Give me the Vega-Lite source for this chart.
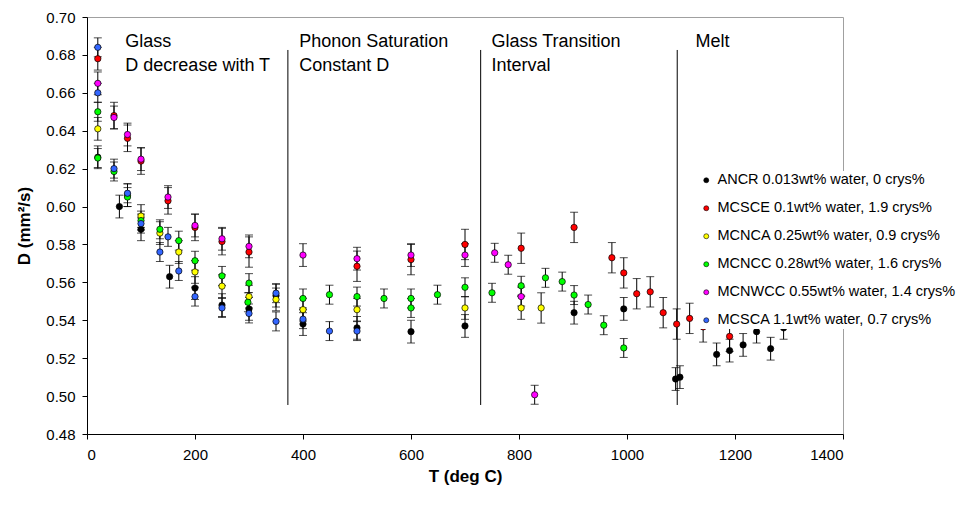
{
  "$schema": "https://vega.github.io/schema/vega-lite/v6.json",
  "width": 756,
  "height": 417,
  "autosize": {"type": "none"},
  "padding": {"left": 87, "top": 17, "right": 118, "bottom": 76},
  "background": "white",
  "config": {
    "font": "Liberation Sans",
    "view": {"stroke": "#a0a0a0", "strokeWidth": 1},
    "axis": {"grid": false, "domainColor": "black", "tickColor": "black", "labelColor": "black", "titleColor": "black", "labelFont": "Liberation Sans", "titleFont": "Liberation Sans", "labelFontSize": 15, "titleFontSize": 17, "titleFontWeight": "bold", "tickSize": 5, "labelOverlap": false}
  },
  "datasets": {
    "pts": [
      {"s": "ANCR", "T": 20, "D": 0.626, "e": 0.006},
      {"s": "ANCR", "T": 60, "D": 0.600, "e": 0.006},
      {"s": "ANCR", "T": 100, "D": 0.588, "e": 0.006},
      {"s": "ANCR", "T": 153, "D": 0.563, "e": 0.006},
      {"s": "ANCR", "T": 200, "D": 0.557, "e": 0.006},
      {"s": "ANCR", "T": 250, "D": 0.548, "e": 0.006},
      {"s": "ANCR", "T": 300, "D": 0.546, "e": 0.006},
      {"s": "ANCR", "T": 350, "D": 0.553, "e": 0.006},
      {"s": "ANCR", "T": 400, "D": 0.538, "e": 0.006},
      {"s": "ANCR", "T": 500, "D": 0.536, "e": 0.006},
      {"s": "ANCR", "T": 600, "D": 0.534, "e": 0.006},
      {"s": "ANCR", "T": 700, "D": 0.537, "e": 0.006},
      {"s": "ANCR", "T": 902, "D": 0.544, "e": 0.006},
      {"s": "ANCR", "T": 994, "D": 0.546, "e": 0.006},
      {"s": "ANCR", "T": 1090, "D": 0.509, "e": 0.006},
      {"s": "ANCR", "T": 1098, "D": 0.510, "e": 0.006},
      {"s": "ANCR", "T": 1166, "D": 0.522, "e": 0.006},
      {"s": "ANCR", "T": 1190, "D": 0.524, "e": 0.006},
      {"s": "ANCR", "T": 1215, "D": 0.527, "e": 0.006},
      {"s": "ANCR", "T": 1240, "D": 0.534, "e": 0.006},
      {"s": "ANCR", "T": 1266, "D": 0.525, "e": 0.006},
      {"s": "ANCR", "T": 1290, "D": 0.536, "e": 0.006},
      {"s": "MCSCE", "T": 20, "D": 0.678, "e": 0.006},
      {"s": "MCSCE", "T": 50, "D": 0.648, "e": 0.007},
      {"s": "MCSCE", "T": 75, "D": 0.636, "e": 0.007},
      {"s": "MCSCE", "T": 100, "D": 0.624, "e": 0.007},
      {"s": "MCSCE", "T": 150, "D": 0.603, "e": 0.007},
      {"s": "MCSCE", "T": 200, "D": 0.589, "e": 0.007},
      {"s": "MCSCE", "T": 250, "D": 0.5815, "e": 0.007},
      {"s": "MCSCE", "T": 300, "D": 0.576, "e": 0.008},
      {"s": "MCSCE", "T": 500, "D": 0.5685, "e": 0.008},
      {"s": "MCSCE", "T": 600, "D": 0.572, "e": 0.008},
      {"s": "MCSCE", "T": 700, "D": 0.580, "e": 0.008},
      {"s": "MCSCE", "T": 804, "D": 0.578, "e": 0.008},
      {"s": "MCSCE", "T": 902, "D": 0.589, "e": 0.008},
      {"s": "MCSCE", "T": 972, "D": 0.573, "e": 0.008},
      {"s": "MCSCE", "T": 994, "D": 0.565, "e": 0.008},
      {"s": "MCSCE", "T": 1018, "D": 0.554, "e": 0.008},
      {"s": "MCSCE", "T": 1043, "D": 0.555, "e": 0.008},
      {"s": "MCSCE", "T": 1067, "D": 0.544, "e": 0.008},
      {"s": "MCSCE", "T": 1092, "D": 0.538, "e": 0.008},
      {"s": "MCSCE", "T": 1116, "D": 0.541, "e": 0.008},
      {"s": "MCSCE", "T": 1141, "D": 0.5365, "e": 0.008},
      {"s": "MCSCE", "T": 1190, "D": 0.5315, "e": 0.008},
      {"s": "MCNCA", "T": 20, "D": 0.641, "e": 0.006},
      {"s": "MCNCA", "T": 75, "D": 0.606, "e": 0.006},
      {"s": "MCNCA", "T": 100, "D": 0.595, "e": 0.006},
      {"s": "MCNCA", "T": 135, "D": 0.586, "e": 0.006},
      {"s": "MCNCA", "T": 170, "D": 0.576, "e": 0.006},
      {"s": "MCNCA", "T": 200, "D": 0.5655, "e": 0.006},
      {"s": "MCNCA", "T": 250, "D": 0.558, "e": 0.006},
      {"s": "MCNCA", "T": 300, "D": 0.5525, "e": 0.006},
      {"s": "MCNCA", "T": 350, "D": 0.551, "e": 0.006},
      {"s": "MCNCA", "T": 400, "D": 0.5456, "e": 0.006},
      {"s": "MCNCA", "T": 500, "D": 0.5456, "e": 0.006},
      {"s": "MCNCA", "T": 700, "D": 0.5465, "e": 0.006},
      {"s": "MCNCA", "T": 804, "D": 0.5465, "e": 0.006},
      {"s": "MCNCA", "T": 841, "D": 0.5465, "e": 0.008},
      {"s": "MCNCC", "T": 20, "D": 0.650, "e": 0.005},
      {"s": "MCNCC", "T": 20, "D": 0.6256, "e": 0.005},
      {"s": "MCNCC", "T": 50, "D": 0.6185, "e": 0.005},
      {"s": "MCNCC", "T": 75, "D": 0.605, "e": 0.005},
      {"s": "MCNCC", "T": 100, "D": 0.5926, "e": 0.005},
      {"s": "MCNCC", "T": 135, "D": 0.588, "e": 0.005},
      {"s": "MCNCC", "T": 170, "D": 0.582, "e": 0.005},
      {"s": "MCNCC", "T": 200, "D": 0.5714, "e": 0.005},
      {"s": "MCNCC", "T": 250, "D": 0.5634, "e": 0.005},
      {"s": "MCNCC", "T": 300, "D": 0.5596, "e": 0.005},
      {"s": "MCNCC", "T": 298, "D": 0.5495, "e": 0.005},
      {"s": "MCNCC", "T": 400, "D": 0.5515, "e": 0.005},
      {"s": "MCNCC", "T": 449, "D": 0.5535, "e": 0.005},
      {"s": "MCNCC", "T": 500, "D": 0.5525, "e": 0.005},
      {"s": "MCNCC", "T": 550, "D": 0.5515, "e": 0.005},
      {"s": "MCNCC", "T": 600, "D": 0.5515, "e": 0.005},
      {"s": "MCNCC", "T": 600, "D": 0.5465, "e": 0.005},
      {"s": "MCNCC", "T": 649, "D": 0.5535, "e": 0.005},
      {"s": "MCNCC", "T": 700, "D": 0.5574, "e": 0.005},
      {"s": "MCNCC", "T": 750, "D": 0.5545, "e": 0.005},
      {"s": "MCNCC", "T": 804, "D": 0.5582, "e": 0.005},
      {"s": "MCNCC", "T": 849, "D": 0.5624, "e": 0.005},
      {"s": "MCNCC", "T": 880, "D": 0.5604, "e": 0.005},
      {"s": "MCNCC", "T": 902, "D": 0.5533, "e": 0.005},
      {"s": "MCNCC", "T": 928, "D": 0.5483, "e": 0.005},
      {"s": "MCNCC", "T": 957, "D": 0.5374, "e": 0.005},
      {"s": "MCNCC", "T": 994, "D": 0.5254, "e": 0.005},
      {"s": "MCNWCC", "T": 20, "D": 0.665, "e": 0.006},
      {"s": "MCNWCC", "T": 50, "D": 0.647, "e": 0.006},
      {"s": "MCNWCC", "T": 75, "D": 0.638, "e": 0.006},
      {"s": "MCNWCC", "T": 100, "D": 0.625, "e": 0.006},
      {"s": "MCNWCC", "T": 150, "D": 0.605, "e": 0.006},
      {"s": "MCNWCC", "T": 200, "D": 0.590, "e": 0.006},
      {"s": "MCNWCC", "T": 250, "D": 0.583, "e": 0.006},
      {"s": "MCNWCC", "T": 300, "D": 0.579, "e": 0.006},
      {"s": "MCNWCC", "T": 400, "D": 0.5744, "e": 0.006},
      {"s": "MCNWCC", "T": 500, "D": 0.5725, "e": 0.006},
      {"s": "MCNWCC", "T": 600, "D": 0.5744, "e": 0.006},
      {"s": "MCNWCC", "T": 700, "D": 0.5744, "e": 0.006},
      {"s": "MCNWCC", "T": 755, "D": 0.5756, "e": 0.005},
      {"s": "MCNWCC", "T": 780, "D": 0.5693, "e": 0.005},
      {"s": "MCNWCC", "T": 804, "D": 0.5525, "e": 0.005},
      {"s": "MCNWCC", "T": 829, "D": 0.5007, "e": 0.005},
      {"s": "MCSCA", "T": 20, "D": 0.684, "e": 0.005},
      {"s": "MCSCA", "T": 20, "D": 0.660, "e": 0.005},
      {"s": "MCSCA", "T": 50, "D": 0.620, "e": 0.005},
      {"s": "MCSCA", "T": 75, "D": 0.607, "e": 0.005},
      {"s": "MCSCA", "T": 100, "D": 0.591, "e": 0.005},
      {"s": "MCSCA", "T": 135, "D": 0.576, "e": 0.005},
      {"s": "MCSCA", "T": 150, "D": 0.584, "e": 0.005},
      {"s": "MCSCA", "T": 170, "D": 0.566, "e": 0.005},
      {"s": "MCSCA", "T": 200, "D": 0.5525, "e": 0.005},
      {"s": "MCSCA", "T": 250, "D": 0.5465, "e": 0.005},
      {"s": "MCSCA", "T": 300, "D": 0.5436, "e": 0.005},
      {"s": "MCSCA", "T": 350, "D": 0.5543, "e": 0.005},
      {"s": "MCSCA", "T": 350, "D": 0.5394, "e": 0.005},
      {"s": "MCSCA", "T": 400, "D": 0.5406, "e": 0.005},
      {"s": "MCSCA", "T": 449, "D": 0.5343, "e": 0.005},
      {"s": "MCSCA", "T": 500, "D": 0.5343, "e": 0.005}
    ],
    "lines": [
      {"T": 372, "D": 0.4953, "D2": 0.6826},
      {"T": 729, "D": 0.4953, "D2": 0.6826},
      {"T": 1093, "D": 0.4953, "D2": 0.6826}
    ],
    "labels": [
      {"T": 71, "D": 0.6868, "text": "Glass"},
      {"T": 71, "D": 0.6741, "text": "D decrease with T"},
      {"T": 393, "D": 0.6868, "text": "Phonon Saturation"},
      {"T": 393, "D": 0.6741, "text": "Constant D"},
      {"T": 749, "D": 0.6868, "text": "Glass Transition"},
      {"T": 749, "D": 0.6741, "text": "Interval"},
      {"T": 1127, "D": 0.6868, "text": "Melt"}
    ]
  },
  "encoding": {
    "x": {"field": "T", "type": "quantitative", "title": "T (deg C)", "scale": {"domain": [0, 1400], "nice": false},
      "axis": {"values": [0, 200, 400, 600, 800, 1000, 1200, 1400], "format": "d", "labelPadding": 8, "titlePadding": 6}},
    "y": {"field": "D", "type": "quantitative", "title": "D (mm²/s)", "scale": {"domain": [0.48, 0.70], "nice": false},
      "axis": {"values": [0.48, 0.50, 0.52, 0.54, 0.56, 0.58, 0.60, 0.62, 0.64, 0.66, 0.68, 0.70], "format": ".2f", "labelPadding": 7, "titlePadding": 12}}
  },
  "layer": [
    {
      "data": {"name": "lines"},
      "mark": {"type": "rule", "color": "black", "strokeWidth": 1},
      "encoding": {"y2": {"field": "D2"}}
    },
    {
      "data": {"name": "labels"},
      "mark": {"type": "text", "align": "left", "baseline": "middle", "fontSize": 18, "font": "Liberation Sans", "color": "black"},
      "encoding": {"text": {"field": "text"}}
    },
    {
      "data": {"name": "pts"},
      "mark": {"type": "errorbar", "color": "black", "ticks": {"size": 8, "color": "black", "strokeWidth": 1}, "rule": {"strokeWidth": 1, "color": "black"}},
      "encoding": {"yError": {"field": "e"}}
    },
    {
      "data": {"name": "pts"},
      "mark": {"type": "point", "filled": true, "size": 40, "stroke": "black", "strokeWidth": 0.7, "opacity": 1},
      "encoding": {
        "fill": {"field": "s", "type": "nominal",
          "scale": {"domain": ["ANCR", "MCSCE", "MCNCA", "MCNCC", "MCNWCC", "MCSCA"], "range": ["#000000", "#ff0000", "#ffff00", "#00ff00", "#ff00ff", "#3366ff"]},
          "legend": {"title": null, "orient": "none", "legendX": 610, "legendY": 154, "fillColor": "white", "padding": 2,
            "labelFontSize": 14.5, "labelFont": "Liberation Sans", "labelColor": "black", "labelLimit": 400, "rowPadding": 13,
            "symbolType": "circle", "symbolSize": 25, "symbolStrokeColor": "black", "symbolStrokeWidth": 0.6, "symbolOpacity": 1,
            "labelExpr": "{'ANCR':'ANCR 0.013wt% water, 0 crys%','MCSCE':'MCSCE 0.1wt% water, 1.9 crys%','MCNCA':'MCNCA 0.25wt% water, 0.9 crys%','MCNCC':'MCNCC 0.28wt% water, 1.6 crys%','MCNWCC':'MCNWCC 0.55wt% water, 1.4 crys%','MCSCA':'MCSCA 1.1wt% water, 0.7 crys%'}[datum.label]"}}
      }
    }
  ]
}
